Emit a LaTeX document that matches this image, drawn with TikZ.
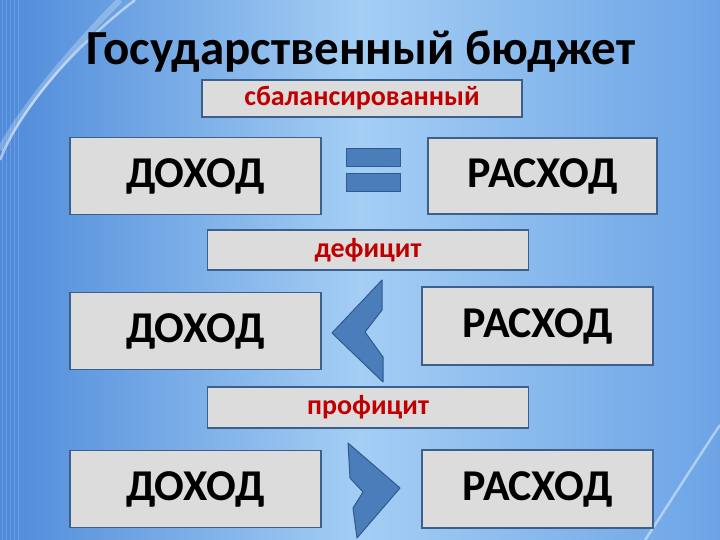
\documentclass[tikz,border=0pt]{standalone}
\usepackage{fontspec}
\setmainfont{Carlito}
\definecolor{bgdark}{HTML}{4F8BDA}
\definecolor{bglight}{HTML}{A4CEF4}
\definecolor{bgright}{HTML}{6CA4E6}
\definecolor{boxfill}{HTML}{DCDCDC}
\definecolor{boxline}{HTML}{3C5F8C}
\definecolor{signfill}{HTML}{4A7DBA}
\definecolor{signline}{HTML}{2F5A8C}
\definecolor{labelred}{HTML}{C00000}
\tikzset{
  sumbox/.style={draw=boxline, fill=boxfill, line width=1.8pt,
    minimum width=251pt, minimum height=77pt, inner sep=0pt,
    font=\fontsize{44}{46}\selectfont\bfseries},
  kindbox/.style={draw=boxline, fill=boxfill, line width=1.8pt,
    minimum width=321pt, minimum height=39pt, inner sep=0pt,
    text=labelred, font=\fontsize{28}{30}\selectfont\bfseries},
  signshape/.style={draw=signline, fill=signfill, line width=1pt, line join=round}
}
\begin{document}
\begin{tikzpicture}[x=1pt,y=-1pt]
\useasboundingbox (0,0) rectangle (720,540);

% ===== Фон =====
\shade[left color=bgdark, right color=bgright, middle color=bglight] (0,0) rectangle (720,540);
\fill[bgdark, opacity=0.6] (0,0) rectangle (18,540);
\foreach \x in {2,6,...,18} {
    \draw[white, opacity=0.15, line width=1pt] (\x,0) -- (\x,540);
}
\draw[white, opacity=0.5, line width=2.5pt] (135,0) .. controls (70,50) and (20,110) .. (0,160);
\draw[white, opacity=0.25, line width=6pt] (120,0) .. controls (60,60) and (15,120) .. (0,150);
\draw[white, opacity=0.45, line width=2.5pt] (720,425) .. controls (690,470) and (665,510) .. (645,540);

% ===== Заголовок =====
\node[font=\fontsize{49}{51}\selectfont\bfseries, anchor=base] (title) at (361,65) {Государственный бюджет};

% ===== Подписи =====
\node[kindbox, minimum width=320pt, minimum height=37pt] (balanced) at (362,98.5) {сбалансированный};
\node[kindbox, minimum height=40pt] (deficit) at (368,250) {дефицит};
\node[kindbox, minimum height=41pt] (surplus) at (368,407.5) {профицит};

% ===== Доходы и расходы =====
\foreach \y/\name in {176/inc1, 331/inc2, 489/inc3} {
    \node[sumbox] (\name) at (195.5,\y) {ДОХОД};
}
\node[sumbox, minimum width=229pt, minimum height=76pt] (exp1) at (542.5,176) {РАСХОД};
\node[sumbox, minimum width=231pt, minimum height=78pt] (exp2) at (537.5,326) {РАСХОД};
\node[sumbox, minimum width=231pt, minimum height=78pt] (exp3) at (537.5,489) {РАСХОД};

% ===== Знаки =====
\draw[signshape] (346,149) rectangle (400,167);
\draw[signshape] (346,174) rectangle (400,192);
\draw[signshape] (382,280) -- (382,310) -- (365,332) -- (383,357) -- (383,382) -- (332,333) -- cycle;
\draw[signshape] (348,443) -- (400,488) -- (357,538) -- (353,508) -- (363,492) -- (350,478) -- cycle;

\end{tikzpicture}
\end{document}
